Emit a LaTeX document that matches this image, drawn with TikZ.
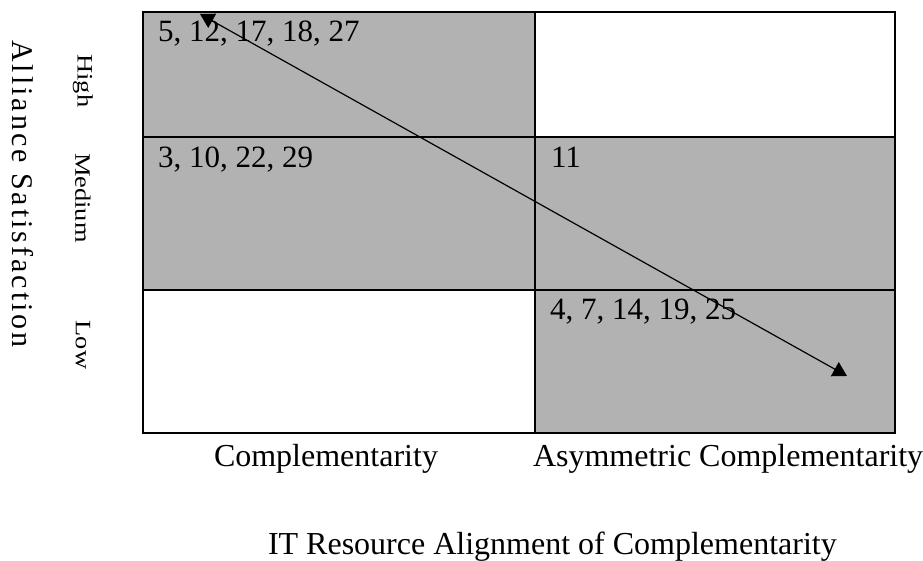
\documentclass[tikz,border=0pt]{standalone}
\usepackage{graphicx}
\usepackage{fontspec}
\setmainfont{Liberation Serif}
\newfontfamily\spacedfont[LetterSpace=10]{Liberation Serif}
\usetikzlibrary{arrows.meta,positioning}
\newcommand{\levelword}[1]{\scalebox{1.2}[1]{#1}}

\begin{document}
\begin{tikzpicture}[x=1pt, y=1pt, line width=2pt]
   \useasboundingbox (0,0) rectangle (923,561);
   \fill[black!30] (143,271) rectangle (535,549);
   \fill[black!30] (535,128) rectangle (895,424);
   \draw (143,128) rectangle (895,549);
   \draw (535,128) -- (535,549);
   \draw (143,424) -- (895,424);
   \draw (143,271) -- (895,271);
   \begin{scope}[every node/.style={anchor=base west, inner sep=0pt, font=\fontsize{31}{31}\selectfont}]
    \node (c1) at (157,519) {5, 12, 17, 18, 27};
    \node (c2) at (157,393) {3, 10, 22, 29};
    \node (c3) at (550,393) {11};
    \node (c4) at (549,241) {4, 7, 14, 19, 25};
   \end{scope}
   \coordinate (a1) at (200,547);
   \coordinate (a2) at (847,185);
   \draw[{Triangle[length=14pt,width=16pt]}-{Triangle[length=14pt,width=16pt]}, line width=1.2pt] (a1) -- (a2);
   \begin{scope}[every node/.style={anchor=base west, inner sep=0pt, font=\fontsize{32}{32}\selectfont}]
    \node (x1) at (213,94) {Complementarity};
    \node (x2) at (532,94) {Asymmetric Complementarity};
    \node (xt) at (267,6) {IT Resource Alignment of Complementarity};
   \end{scope}
   \begin{scope}[every node/.style={rotate=-90, inner sep=0pt, font=\fontsize{22}{22}\selectfont}]
    \node (ys) [font=\spacedfont\fontsize{30}{30}\selectfont] at (23,367) {Alliance Satisfaction};
    \node (y1) at (83,480) {\levelword{High}};
    \node (y2) at (83,363) {\levelword{Medium}};
    \node (y3) at (83,216) {\levelword{Low}};
   \end{scope}
\end{tikzpicture}
\end{document}
